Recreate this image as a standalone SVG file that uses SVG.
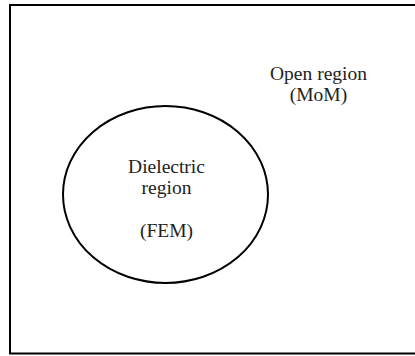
<svg xmlns="http://www.w3.org/2000/svg" width="415" height="356" viewBox="0 0 415 356">
  <style>
    .edge { fill: none; stroke: #000; stroke-width: 2; }
    .label { font-family: "Liberation Serif", "Times New Roman", serif; font-size: 19.5px; fill: #222; text-anchor: middle; }
  </style>
  <rect width="415" height="356" fill="#fff"/>
  <!-- outer open region, right side runs off the canvas -->
  <g id="open-region">
    <path class="edge" d="M 420 5 L 10 5 L 10 353.5 L 420 353.5"/>
    <text class="label" x="318.5" y="80">Open region</text>
    <text class="label" x="318.5" y="101">(MoM)</text>
  </g>
  <!-- dielectric body -->
  <g id="dielectric-region">
    <ellipse class="edge" cx="165.5" cy="194.5" rx="102.5" ry="88.5"/>
    <text class="label" x="166.5" y="173">Dielectric</text>
    <text class="label" x="166.5" y="194">region</text>
    <text class="label" x="166.5" y="237">(FEM)</text>
  </g>
  <g id="connectors"/>
</svg>
